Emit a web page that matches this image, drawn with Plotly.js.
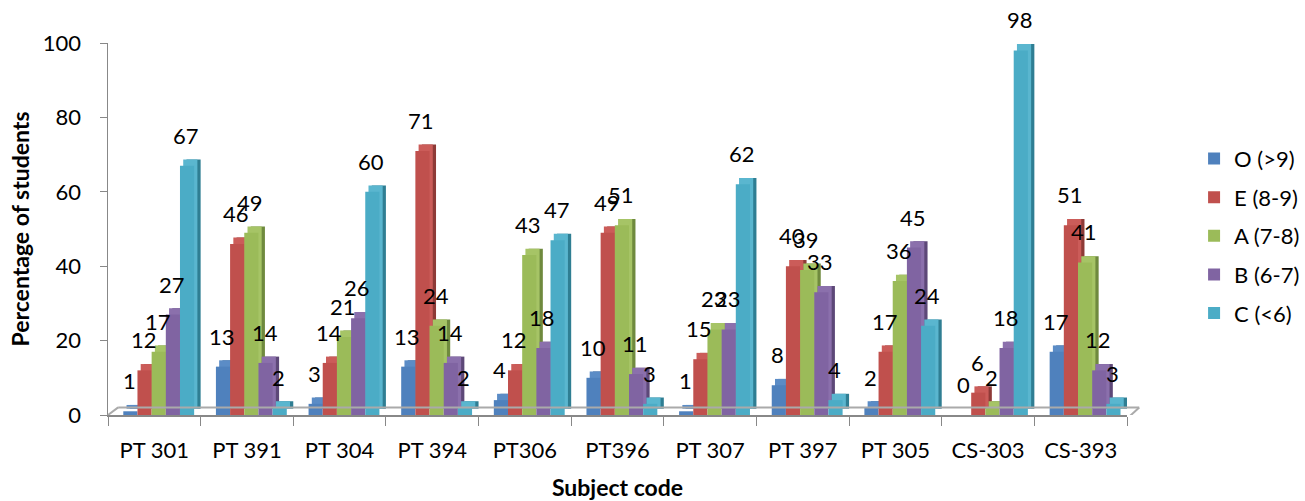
<!DOCTYPE html>
<html>
<head>
<meta charset="utf-8">
<script src="https://cdn.plot.ly/plotly-3.0.1.min.js"></script>
<style>html,body{margin:0;padding:0;background:#fff;}#chart{width:1305px;height:501px;}</style>
</head>
<body>
<div id="chart"></div>
<script>
const categories = ["PT 301","PT 391","PT 304","PT 394","PT306","PT396","PT 307","PT 397","PT 305","CS-303","CS-393"];
const seriesNames = ["O (>9)","E (8-9)","A (7-8)","B (6-7)","C (<6)"];
const gradeO = [1,13,3,13,4,10,1,8,2,0,17];
const gradeE = [12,46,14,71,12,49,15,40,17,6,51];
const gradeA = [17,49,21,24,43,51,23,39,36,2,41];
const gradeB = [27,14,26,14,18,11,23,33,45,18,12];
const gradeC = [67,2,60,2,47,3,62,4,24,98,3];
const seriesValues = [gradeO, gradeE, gradeA, gradeB, gradeC];

const frontColors = ["#4F81BD","#C0504D","#9BBB59","#8064A2","#4BACC6"];
const sideColors  = ["#38608F","#8E3A37","#6F8A3E","#5D4878","#2F7E93"];
const topColors   = ["#5B8CC6","#CB5C59","#A6C466","#8B70AC","#5AB6CF"];

const barW = 0.153;
const startOff = -0.335;
const depthX = 0.07;
const depthY = 1.7;
const FONT = 'Lato, "Open Sans", sans-serif';

const W = 1305, H = 501;
const margin = {l: 108, r: 178, t: 43, b: 86};
const catPx = (W - margin.l - margin.r) / categories.length;

const traces = [];
const annotations = [];
seriesValues.forEach((vals, i) => {
  traces.push({
    type: 'bar', x: categories, y: vals, base: depthY,
    width: barW, offset: startOff + i*barW + depthX,
    marker: {color: sideColors[i]},
    showlegend: false, hoverinfo: 'skip'
  });
  traces.push({
    type: 'bar', x: categories, y: vals, base: depthY,
    width: barW, offset: startOff + i*barW + depthX*0.5,
    marker: {color: topColors[i]},
    showlegend: false, hoverinfo: 'skip'
  });
  traces.push({
    type: 'bar', name: seriesNames[i], x: categories, y: vals,
    width: barW, offset: startOff + i*barW,
    marker: {color: frontColors[i]},
    legendgroup: 'g'+i,
    hoverinfo: 'skip'
  });
  const shift = (startOff + i*barW + barW/2) * catPx - 1;
  vals.forEach((v, k) => {
    annotations.push({
      xref: 'x', yref: 'y', x: categories[k], y: v,
      text: String(v), showarrow: false,
      xanchor: 'center', yanchor: 'bottom',
      xshift: shift, yshift: 15,
      font: {family: FONT, size: 22, color: '#000'}
    });
  });
});

const layout = {
  width: W, height: H,
  margin: margin,
  paper_bgcolor: '#fff', plot_bgcolor: 'rgba(0,0,0,0)',
  barmode: 'overlay',
  font: {family: FONT, size: 22, color: '#000'},
  xaxis: {
    type: 'category', range: [-0.5, 10.5],
    tickson: 'boundaries', ticks: 'outside', ticklen: 9, tickcolor: '#888',
    showline: true, linecolor: '#888', linewidth: 1.5,
    tickfont: {size: 22}, ticklabelstandoff: 15,
    title: {text: 'Subject code', font: {size: 23, weight: 'bold'}, standoff: 20}
  },
  yaxis: {
    range: [0, 100], tickvals: [0,20,40,60,80,100],
    ticks: 'outside', ticklen: 7, tickcolor: '#888',
    showline: true, linecolor: '#888', linewidth: 1.5,
    showgrid: false, zeroline: false,
    tickfont: {size: 22}, ticklabelstandoff: 14,
    title: {text: 'Percentage of students', font: {size: 23, weight: 'bold'}, standoff: 7}
  },
  legend: {
    xref: 'container', yref: 'container', x: 0.915, y: 0.725, xanchor: 'left', yanchor: 'top',
    font: {size: 22}, tracegroupgap: 7, itemwidth: 30
  },
  annotations: annotations,
  shapes: [
    {type: 'line', xref: 'paper', yref: 'y', x0: 0.01, x1: 1.012, y0: depthY*1.2, y1: depthY*1.2, line: {color: '#AAA', width: 2}},
    {type: 'line', xref: 'paper', yref: 'y', x0: 0, x1: 0.01, y0: 0, y1: depthY*1.2, line: {color: '#AAA', width: 2}},
    {type: 'line', xref: 'paper', yref: 'y', x0: 1.0, x1: 1.012, y0: -1, y1: depthY*1.2, line: {color: '#AAA', width: 2}}
  ]
};

Plotly.newPlot('chart', traces, layout, {displayModeBar: false, staticPlot: true});
</script>
</body>
</html>
